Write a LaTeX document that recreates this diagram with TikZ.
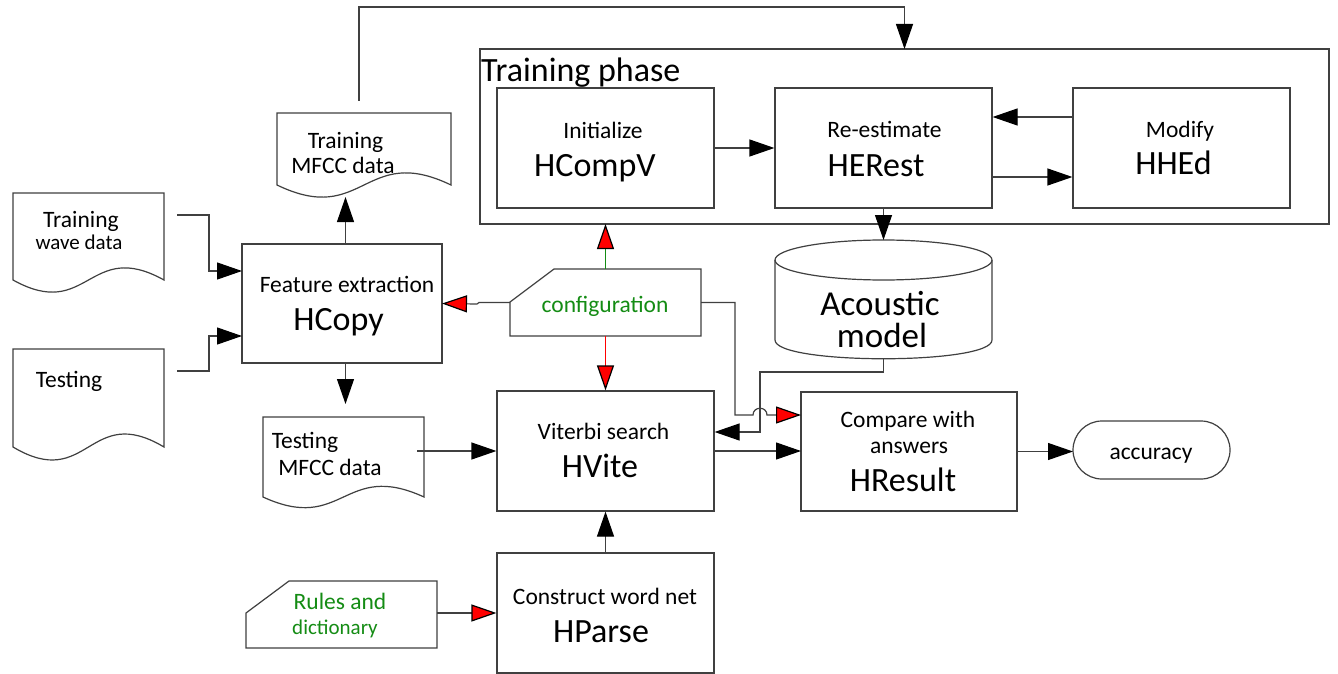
\documentclass[tikz,border=0pt]{standalone}
\usepackage{fontspec}
\setmainfont{Carlito}
\usetikzlibrary{arrows.meta}

\definecolor{lineg}{gray}{0.25}
\definecolor{cfggreen}{RGB}{20,140,20}

\tikzset{
  ln/.style={draw=lineg, line width=1.2pt},
  tip/.style={-{Triangle[length=25pt,width=17pt,color=black]}},
  redtip/.style={-{Triangle[length=25pt,width=17pt,color=black,fill=red]}},
  procbox/.style={ln, rectangle, inner sep=0pt, minimum width=217pt, minimum height=120pt},
  anchorbox/.style={inner sep=0pt, outer sep=0pt},
  small/.style={font=\fontsize{23.5}{26}\selectfont, inner sep=0pt, anchor=base},
  smaller/.style={font=\fontsize{21}{24}\selectfont, inner sep=0pt, anchor=base},
  big/.style={font=\fontsize{34}{38}\selectfont, inner sep=0pt, anchor=base},
}

% document symbol with a wavy lower edge: name, left, top, right, bottom, bulge
\newcommand\wavedoc[6]{%
  \draw[ln, fill=white] (#2,#3) -- (#4,#3) -- (#4,#5)
    .. controls ({(#2+#4)/2},{#5-#6}) and ({(#2+#4)/2},{#5+#6}) .. (#2,#5) -- cycle;
  \coordinate (#1) at ({(#2+#4)/2},{(#3+#5)/2});
}

\begin{document}
\begin{tikzpicture}[x=1pt, y=-1pt]
\useasboundingbox (0,0) rectangle (1338,674);
\fill[white] (0,0) rectangle (1338,674);

% ---------- training phase ----------
\node[ln, anchorbox, minimum width=849pt, minimum height=175pt] (phase) at (904.5,136.5) {};
\node[font=\fontsize{34}{38}\selectfont, inner sep=0pt, anchor=base west] (phasetitle) at (481,82) {Training phase};

\node[procbox] (hcompv) at (605.5,148) {};
\node[small] (hcompv1) at (603,139) {Initialize};
\node[big]   (hcompv2) at (595,176) {HCompV};

\node[procbox] (herest) at (883.5,148) {};
\node[small] (herest1) at (884.5,138) {Re-estimate};
\node[big]   (herest2) at (876,176) {HERest};

\node[procbox] (hhed) at (1181.5,148) {};
\node[small] (hhed1) at (1180,138) {Modify};
\node[big]   (hhed2) at (1173.5,175) {HHEd};

\draw[ln, tip] (hcompv.east) -- (herest.west);
\draw[ln, tip] ([yshift=31pt]hhed.west) -- ([yshift=31pt]herest.east);
\draw[ln, tip] ([yshift=-29pt]herest.east) -- ([yshift=-29pt]hhed.west);

% ---------- acoustic model (cylinder) ----------
\node[anchorbox, minimum width=217pt, minimum height=119pt] (acmodel) at (883.5,299.5) {};
\draw[ln, fill=white] (775,260) -- (775,340) .. controls (775,365) and (992,365) .. (992,340) -- (992,260);
\draw[ln] (883.5,260) ellipse [x radius=108.5, y radius=20];
\node[font=\fontsize{35}{38}\selectfont, inner sep=0pt, anchor=base] (acmodel1) at (880,315) {Acoustic};
\node[font=\fontsize{35}{38}\selectfont, inner sep=0pt, anchor=base] (acmodel2) at (882,347) {model};

\draw[ln, tip] (herest.south) -- (acmodel.north);

% ---------- feature extraction ----------
\node[ln, anchorbox, minimum width=200pt, minimum height=119pt] (hcopy) at (342,303.5) {};
\node[small] (hcopy1) at (347,292) {Feature extraction};
\node[big]   (hcopy2) at (338.5,330) {HCopy};

\wavedoc{trwave}{13}{193}{164}{280}{42}
\node[small]   (trwave1) at (81,227) {Training};
\node[smaller] (trwave2) at (79,249) {wave data};
\coordinate (trwave-out) at (177,215);

\wavedoc{tewave}{13}{349}{164}{447}{45}
\node[small] (tewave1) at (69,387) {Testing};
\coordinate (tewave-out) at (177,371);

\draw[ln, tip] (trwave-out) -- (209,215) |- ([yshift=32.5pt]hcopy.west);
\draw[ln, tip] (tewave-out) -- (209,371) |- ([yshift=-32.5pt]hcopy.west);

\wavedoc{trmfcc}{277}{113}{451}{185}{42}
\node[small] (trmfcc1) at (345.5,148) {Training};
\node[small] (trmfcc2) at (343,173) {MFCC data};
\coordinate (trmfcc-in) at (345.5,197);
\coordinate (trmfcc-up) at (359,101);

\wavedoc{temfcc}{263}{417}{424}{497}{37}
\node[small] (temfcc1) at (305,448) {Testing};
\node[small] (temfcc2) at (330,475) {MFCC data};
\coordinate (temfcc-in) at (345.5,404);
\coordinate (temfcc-out) at (417,451);

\draw[ln, tip] ([xshift=3.5pt]hcopy.north) -- (trmfcc-in);
\draw[ln, tip] ([xshift=3.5pt]hcopy.south) -- (temfcc-in);
\draw[ln, tip] (trmfcc-up) -- (359,7) -| (phase.north);

% ---------- configuration ----------
\draw[ln, fill=white] (510,336) -- (510,302) -- (554,269) -- (701,269) -- (701,336) -- cycle;
\node[anchorbox, minimum width=191pt, minimum height=67pt] (config) at (605.5,302.5) {};
\node[small, text=cfggreen] (configtxt) at (605,312) {configuration};

% ---------- recognition ----------
\node[procbox] (hvite) at (605.5,451) {};
\node[small] (hvite1) at (603.5,439) {Viterbi search};
\node[big]   (hvite2) at (600,477) {HVite};

\node[procbox] (hparse) at (605.5,613) {};
\node[small] (hparse1) at (605,604) {Construct word net};
\node[big]   (hparse2) at (601,642) {HParse};

\draw[ln, fill=white] (246,648) -- (246,613) -- (289,581) -- (437,581) -- (437,648) -- cycle;
\node[anchorbox, minimum width=191pt, minimum height=67pt] (rules) at (341.5,613) {};
\node[small, text=cfggreen]   (rules1) at (340,609) {Rules and};
\node[smaller, text=cfggreen] (rules2) at (335,634) {dictionary};

\node[ln, anchorbox, minimum width=216pt, minimum height=119pt] (hresult) at (909,451.5) {};
\node[small] (hresult1) at (908,427) {Compare with};
\node[small] (hresult2) at (909,453) {answers};
\node[big]   (hresult3) at (903,491) {HResult};

\node[ln, anchorbox, minimum width=157pt, minimum height=58pt, rounded corners=29pt] (acc) at (1151.5,450) {};
\node[small] (acctxt) at (1151,459) {accuracy};

% ---------- connectors ----------
\draw[ln, tip] (temfcc-out) -- (temfcc-out -| hvite.west);
\draw[ln, tip] (hparse.north) -- (hvite.south);
\draw[ln, redtip] (rules.east) -- (rules.east -| hparse.west);
\draw[ln, tip] (hvite.east) -- (hvite.east -| hresult.west);
\draw[ln, tip] (hresult.east) -- (hresult.east -| acc.west);

\draw[ln, redtip] (config.west) -- (479,302.5) -- (477,304) -- (hcopy.east);
\draw[draw=cfggreen, line width=1.2pt, redtip] (config.north) -- (config.north |- phase.south);
\draw[draw=red, line width=1.2pt, redtip] (config.south) -- (hvite.north);
\draw[ln, redtip] (config.east) -- (735,302.5) -- (735,415) -- (753,415)
  .. controls (753,406) and (767,406) .. (767,415) -- (hresult.west |- 0,415);
\draw[ln, tip] (acmodel.south) |- (760,372) |- ([yshift=19pt]hvite.east);

\end{tikzpicture}
\end{document}
